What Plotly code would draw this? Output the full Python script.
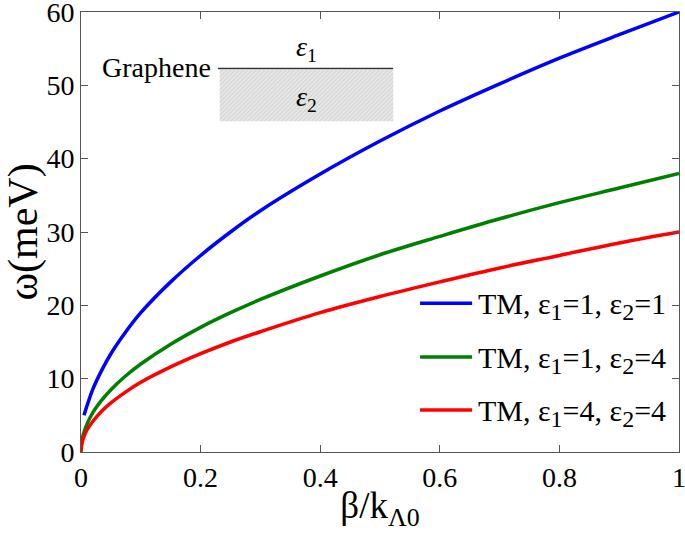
import plotly.graph_objects as go

# Data
beta = [0.0, 0.002, 0.005, 0.01, 0.02, 0.035, 0.05, 0.075, 0.1, 0.15, 0.2, 0.25, 0.3, 0.4, 0.5, 0.6, 0.7, 0.8, 0.9, 1.0]
omega_11 = [None, None, 5.0, 6.3, 8.6, 11.2, 13.4, 16.4, 19.0, 23.2, 26.8, 30.0, 32.9, 37.9, 42.4, 46.5, 50.2, 53.7, 56.9, 60.0]
omega_14 = [0.6, 1.8, 2.7, 3.8, 5.4, 7.1, 8.5, 10.4, 12.0, 14.7, 17.0, 19.0, 20.8, 24.0, 26.9, 29.4, 31.8, 34.0, 36.0, 38.0]
omega_44 = [0.0, 1.3, 2.1, 3.0, 4.2, 5.6, 6.7, 8.2, 9.5, 11.6, 13.4, 15.0, 16.4, 19.0, 21.2, 23.2, 25.1, 26.8, 28.5, 30.0]
eps1 = ["1", "1", "4"]
eps2 = ["1", "4", "4"]
colors = ["#0000ff", "#008000", "#ff0000"]
x_ticks = [0, 0.2, 0.4, 0.6, 0.8, 1]
x_tick_text = ["0", "0.2", "0.4", "0.6", "0.8", "1"]
y_ticks = [0, 10, 20, 30, 40, 50, 60]

# Inset (substrate box) extents in data units
box_x = [0.232, 0.522]
box_y = [45.1, 52.1]
interface_y = 52.3

FONT = "Liberation Serif, Times New Roman, serif"


def sub(s):
    return "<sub><span style='font-size:24px'>" + s + "</span></sub>"


names = ["TM, ε" + sub("1") + "=" + a + ", ε" + sub("2") + "=" + b for a, b in zip(eps1, eps2)]

fig = go.Figure()

# hatched substrate
fig.add_trace(go.Scatter(
    x=[box_x[0], box_x[1], box_x[1], box_x[0], box_x[0]],
    y=[box_y[0], box_y[0], box_y[1], box_y[1], box_y[0]],
    mode="lines", line=dict(width=0, color="rgba(0,0,0,0)"),
    fill="toself", fillcolor="#e4e4e4",
    fillpattern=dict(shape="/", fgcolor="#b4b4b4", bgcolor="#e8e8e8", size=3, solidity=0.3),
    showlegend=False, hoverinfo="skip"))

for ys, nm, c in zip([omega_11, omega_14, omega_44], names, colors):
    fig.add_trace(go.Scatter(x=beta, y=ys, mode="lines", name=nm, showlegend=False,
                             line=dict(color=c, width=3.5, shape="spline", smoothing=1.0),
                             connectgaps=False))

# manual legend (paper coordinates)
leg_y = [0.338, 0.216, 0.0955]
for nm, c, yy in zip(names, colors, leg_y):
    fig.add_shape(type="line", xref="paper", yref="paper", x0=0.567, x1=0.654, y0=yy, y1=yy,
                  line=dict(color=c, width=3.5))
    fig.add_annotation(xref="paper", yref="paper", x=0.660, y=yy, text=nm, showarrow=False,
                       xanchor="left", yanchor="middle", yshift=-3,
                       font=dict(family=FONT, size=30, color="black"))

# interface line
fig.add_shape(type="line", x0=box_x[0] - 0.003, x1=box_x[1], y0=interface_y, y1=interface_y,
              line=dict(color="#333333", width=1.5))

fig.add_annotation(x=box_x[0] - 0.003, y=interface_y, text="Graphene", showarrow=False,
                   xanchor="right", yanchor="middle", xshift=-5, yshift=1,
                   font=dict(family=FONT, size=28, color="black"))
fig.add_annotation(x=0.377, y=55.0, text="<i>ε</i><sub>1</sub>", showarrow=False,
                   font=dict(family=FONT, size=28, color="black"))
fig.add_annotation(x=0.377, y=48.2, text="<i>ε</i><sub>2</sub>", showarrow=False,
                   font=dict(family=FONT, size=28, color="black"))

axis_common = dict(showline=True, linecolor="#555555", linewidth=1, mirror="ticks",
                   ticks="inside", ticklen=7, tickcolor="#555555", showgrid=False,
                   zeroline=False, automargin=False, ticklabeloverflow="allow",
                   tickfont=dict(family=FONT, size=28, color="black"))

fig.update_layout(
    width=685, height=542,
    margin=dict(l=81, r=6, t=12, b=90),
    paper_bgcolor="white", plot_bgcolor="white",
    font=dict(family=FONT, color="black"),
    showlegend=False,
    xaxis=dict(range=[0, 1], tickvals=x_ticks, ticktext=x_tick_text,
               title=dict(text="β/k<sub>Λ0</sub>", font=dict(family=FONT, size=37), standoff=0),
               **axis_common),
    yaxis=dict(range=[0, 60], tickvals=y_ticks,
               title=dict(text="ω(meV)", font=dict(family=FONT, size=42), standoff=4),
               **axis_common),
)

fig.write_html("out.html", config={"displayModeBar": False},
               post_script="document.body.style.margin='0px';document.body.style.overflow='hidden';")
